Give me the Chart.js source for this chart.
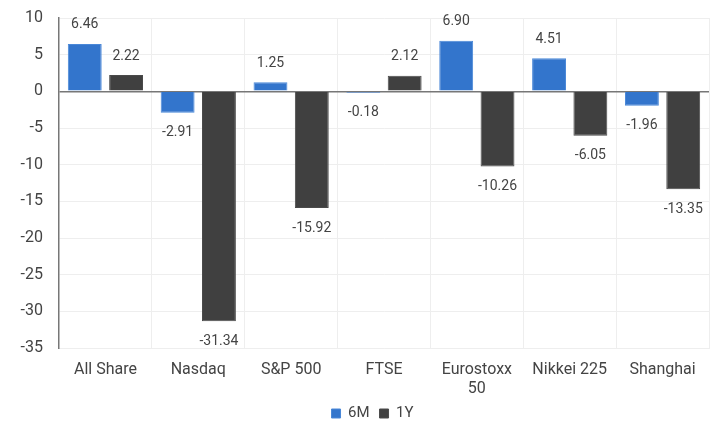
<!DOCTYPE html>
<html>
<head>
<meta charset="utf-8">
<script src="https://cdn.jsdelivr.net/npm/chart.js@4"></script>
<style>
  body { margin: 0; background: #fff; }
</style>
</head>
<body>
<canvas id="bar-chart" width="719" height="423"></canvas>
<script>
const categories = ['All Share', 'Nasdaq', 'S&P 500', 'FTSE', ['Eurostoxx', '50'], 'Nikkei 225', 'Shanghai']
const sixMonth = [6.46, -2.91, 1.25, -0.18, 6.90, 4.51, -1.96]
const oneYear = [2.22, -31.34, -15.92, 2.12, -10.26, -6.05, -13.35]

// values written above or below each bar
const barLabels = {
  id: 'barLabels',
  afterDatasetsDraw(chart) {
    const ctx = chart.ctx
    ctx.save()
    ctx.font = '14px Roboto'
    ctx.fillStyle = '#444'
    ctx.textAlign = 'center'
    ctx.textBaseline = 'middle'
    chart.data.datasets.forEach((ds, i) => {
      chart.getDatasetMeta(i).data.forEach((bar, j) => {
        const v = ds.data[j]
        const y = v >= 0 ? bar.y - 19 : bar.y + 20
        ctx.fillText(v.toFixed(2), bar.x, y)
      })
    })
    ctx.restore()
  }
}

// legend sits a bit right of the canvas centre in the original
const legendShift = {
  id: 'legendShift',
  afterLayout(chart) {
    chart.legend.left += 18
    chart.legend.right += 18
  }
}

const ctx1 = document.getElementById('bar-chart').getContext('2d')

let bar_chart = new Chart(ctx1, {
  type: 'bar',
  data: {
    labels: categories,
    datasets: [{
      label: '6M',
      data: sixMonth,
      backgroundColor: '#3375cc',
      borderColor: '#4a88d8',
      borderWidth: 1
    }, {
      label: '1Y',
      data: oneYear,
      backgroundColor: '#404040',
      borderColor: '#4a4a4a',
      borderWidth: 1
    }]
  },
  options: {
    responsive: false,
    animation: false,
    layout: { padding: { top: 18, right: 10, left: 0, bottom: -8 } },
    datasets: { bar: { categoryPercentage: 0.89, barPercentage: 0.82 } },
    scales: {
      x: {
        afterFit: axis => { axis.height = 48 },
        grid: { color: '#eeeeee', offset: true, drawTicks: false },
        border: { color: '#eeeeee' },
        ticks: { color: '#444', font: { family: 'Roboto', size: 16 }, padding: 12, maxRotation: 0 }
      },
      y: {
        min: -35,
        max: 10,
        afterFit: axis => {
          axis.width = 59
          axis.paddingTop = 0
          axis.paddingBottom = 0
        },
        grid: {
          drawTicks: false,
          color: ctx => ctx.tick.value === 0 ? '#777' : '#eeeeee',
          lineWidth: ctx => ctx.tick.value === 0 ? 1.5 : 1
        },
        border: { color: '#777', width: 1.5 },
        ticks: { stepSize: 5, color: '#444', font: { family: 'Roboto', size: 16 }, padding: 16 }
      }
    },
    plugins: {
      tooltip: { enabled: false },
      legend: {
        position: 'bottom',
        labels: {
          color: '#444',
          font: { family: 'Roboto', size: 15 },
          boxWidth: 9,
          boxHeight: 9,
          padding: 10,
          useBorderRadius: false
        }
      }
    }
  },
  plugins: [barLabels, legendShift]
})
</script>
</body>
</html>
